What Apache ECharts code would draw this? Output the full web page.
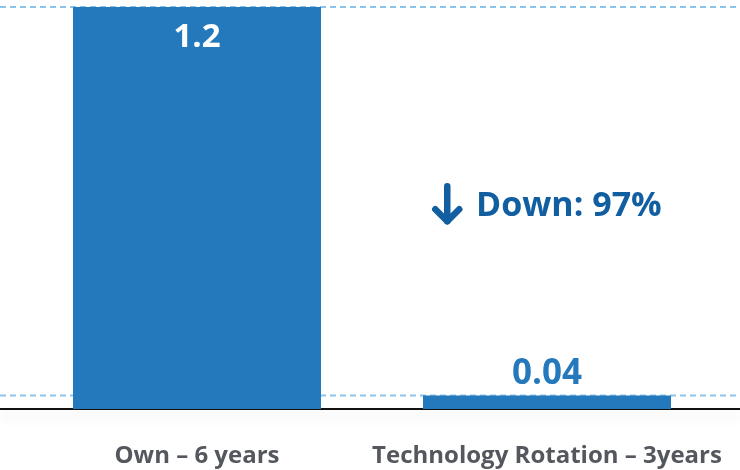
<!DOCTYPE html>
<html><head><meta charset="utf-8">
<script src="https://cdn.jsdelivr.net/npm/echarts@6/dist/echarts.min.js"></script>
<style>html,body{margin:0;padding:0;background:#fff}#c{width:740px;height:470px}</style>
</head><body><div id="c"></div>
<script>
const categories = ['Own – 6 years', 'Technology Rotation – 3years'];
const values = [1.2, 0.04];
const valueLabels = ['1.2', '0.04'];
const refLines = [1.2, 0.04];
const annotation = 'Down: 97%';

const BLUE = '#2479bd';
const DASH = '#8ac3ec';
const chart = echarts.init(document.getElementById('c'), null, {renderer: 'canvas'});
const FONT = '"Open Sans", Lato, sans-serif';
const refSeries = refLines.map(v => ({
  type: 'line', xAxisIndex: 1, yAxisIndex: 1, z: 1, silent: true,
  data: [[0, v], [1, v]], symbol: 'none',
  lineStyle: {type: [6, 4], color: DASH, width: 2}
}));
chart.setOption({
  animation: false,
  backgroundColor: '#fff',
  grid: [
    {left: 22, right: 18, top: 7, bottom: 61},
    {left: 0, right: 0, top: 7, bottom: 61}
  ],
  xAxis: [
    {type: 'category', gridIndex: 0, data: categories,
     axisLine: {show: false}, axisTick: {show: false},
     axisLabel: {interval: 0, color: '#54585e', fontSize: 24, fontWeight: 'bold', fontFamily: FONT, margin: 35}},
    {type: 'value', gridIndex: 1, min: 0, max: 1, show: true,
     axisLine: {show: true, onZero: false, lineStyle: {color: '#111', width: 2, shadowColor: 'rgba(0,0,0,0.14)', shadowBlur: 12, shadowOffsetY: 7}},
     axisTick: {show: false}, axisLabel: {show: false}, splitLine: {show: false}}
  ],
  yAxis: [
    {type: 'value', gridIndex: 0, min: 0, max: 1.2, show: false, splitLine: {show: false}},
    {type: 'value', gridIndex: 1, min: 0, max: 1.2, show: false, splitLine: {show: false}}
  ],
  series: refSeries.concat([
    {type: 'bar', xAxisIndex: 0, yAxisIndex: 0, barWidth: 248, zlevel: 1,
     data: values.map((v, i) => ({
       value: v,
       itemStyle: {color: BLUE},
       label: i === 0 ? {show: true, position: 'insideTop', distance: 14, color: '#fff', fontSize: 33} :
                        {show: true, position: 'top', distance: 4, color: BLUE, fontSize: 35}
     })),
     label: {formatter: p => valueLabels[p.dataIndex], fontWeight: 'bold', fontFamily: FONT}}
  ]),
  graphic: [
    {type: 'group', left: 432, top: 183, children: [
      {type: 'line', shape: {x1: 16, y1: 3, x2: 16, y2: 38}, style: {stroke: '#115ea0', lineWidth: 6.5, lineCap: 'round'}},
      {type: 'polyline', shape: {points: [[4, 26], [16, 38], [28, 26]]}, style: {stroke: '#115ea0', lineWidth: 6.5, lineCap: 'round', lineJoin: 'round', fill: null}}
    ]},
    {type: 'text', left: 476, top: 189, style: {text: annotation, fill: '#115ea0', fontSize: 34, fontWeight: 'bold', fontFamily: FONT}}
  ]
});
</script></body></html>
